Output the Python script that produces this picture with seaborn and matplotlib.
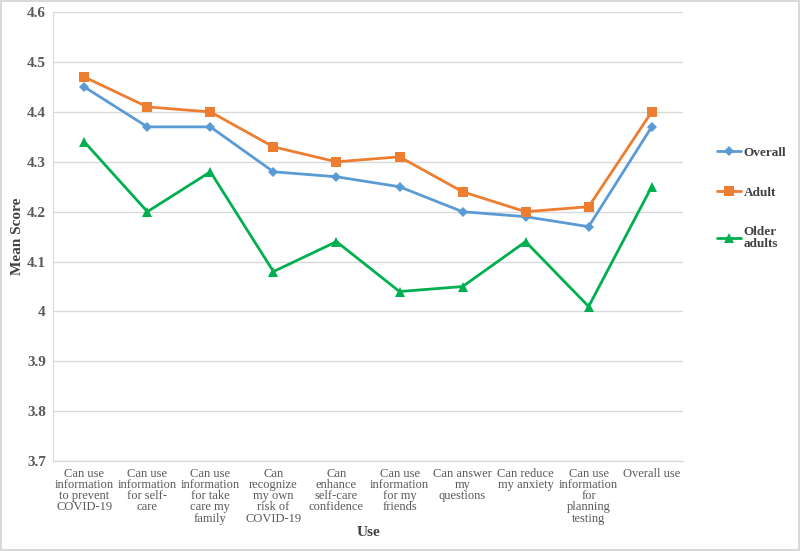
import pandas as pd
import matplotlib
matplotlib.use("Agg")
import matplotlib.pyplot as plt
import seaborn as sns

categories = [
    "Can use\ninformation\nto prevent\nCOVID-19",
    "Can use\ninformation\nfor self-\ncare",
    "Can use\ninformation\nfor take\ncare my\nfamily",
    "Can\nrecognize\nmy own\nrisk of\nCOVID-19",
    "Can\nenhance\nself-care\nconfidence",
    "Can use\ninformation\nfor my\nfriends",
    "Can answer\nmy\nquestions",
    "Can reduce\nmy anxiety",
    "Can use\ninformation\nfor\nplanning\ntesting",
    "Overall use",
]
overall = [4.45, 4.37, 4.37, 4.28, 4.27, 4.25, 4.20, 4.19, 4.17, 4.37]
adult = [4.47, 4.41, 4.40, 4.33, 4.30, 4.31, 4.24, 4.20, 4.21, 4.40]
older = [4.34, 4.20, 4.28, 4.08, 4.14, 4.04, 4.05, 4.14, 4.01, 4.25]
series_names = ["Overall", "Adult", "Older\nadults"]
yticks = [3.7, 3.8, 3.9, 4.0, 4.1, 4.2, 4.3, 4.4, 4.5, 4.6]
ytick_labels = ["3.7", "3.8", "3.9", "4", "4.1", "4.2", "4.3", "4.4", "4.5", "4.6"]

rows = []
for name, vals in zip(series_names, [overall, adult, older]):
    for i, v in enumerate(vals):
        rows.append({"pos": i, "score": v, "group": name})
df = pd.DataFrame(rows)

sns.set_style("white")
plt.rcParams["font.family"] = ["Liberation Serif", "DejaVu Serif"]

fig = plt.figure(figsize=(8, 5.51), dpi=100)
fig.patch.set_edgecolor("#d9d9d9")
fig.patch.set_linewidth(1.5)
ax = fig.add_axes([0.066, 0.163, 0.788, 0.815])

palette = {"Overall": "#5B9BD5", "Adult": "#ED7D31", "Older\nadults": "#00B050"}
markers = {"Overall": "D", "Adult": "s", "Older\nadults": "^"}
sns.lineplot(data=df, x="pos", y="score", hue="group", style="group",
             palette=palette, markers=markers, dashes=False, linewidth=2,
             markersize=7, markeredgewidth=0, ax=ax)
for line in ax.get_lines():
    if line.get_marker() == "D":
        line.set_markersize(5)

ax.set_xlim(-0.5, len(categories) - 0.5)
ax.set_ylim(3.7, 4.6)
ax.set_yticks(yticks)
ax.set_yticklabels(ytick_labels, fontsize=11, fontweight="bold", color="#595959")
ax.set_xticks(range(len(categories)))
ax.set_xticklabels(categories, fontsize=9, color="#595959", linespacing=0.9)
ax.tick_params(axis="x", length=0, pad=5)
ax.set_xticks([i - 0.5 for i in range(len(categories) + 1)], minor=True)
ax.tick_params(axis="x", which="minor", length=4, color="#d9d9d9")
ax.tick_params(axis="y", length=3, color="#d9d9d9", pad=2)
ax.grid(axis="y", color="#d9d9d9", linewidth=1)
ax.grid(axis="x", visible=False)
for s in ["top", "right"]:
    ax.spines[s].set_visible(False)
for s in ["left", "bottom"]:
    ax.spines[s].set_color("#d9d9d9")

ax.set_xlabel("Use", fontsize=11, fontweight="bold", color="#404040")
ax.set_ylabel("Mean Score", fontsize=11, fontweight="bold", color="#404040")
ax.xaxis.set_label_coords(0.50, -0.145)
ax.yaxis.set_label_coords(-0.045, 0.5)

leg = ax.legend(loc="center left", bbox_to_anchor=(1.035, 0.585), frameon=False,
                fontsize=9.5, labelspacing=2.1, handlelength=1.8, handletextpad=0.2)
for t in leg.get_texts():
    t.set_fontweight("bold")
    t.set_color("#404040")
    t.set_linespacing(1.0)

fig.savefig("out.png", dpi=100)
